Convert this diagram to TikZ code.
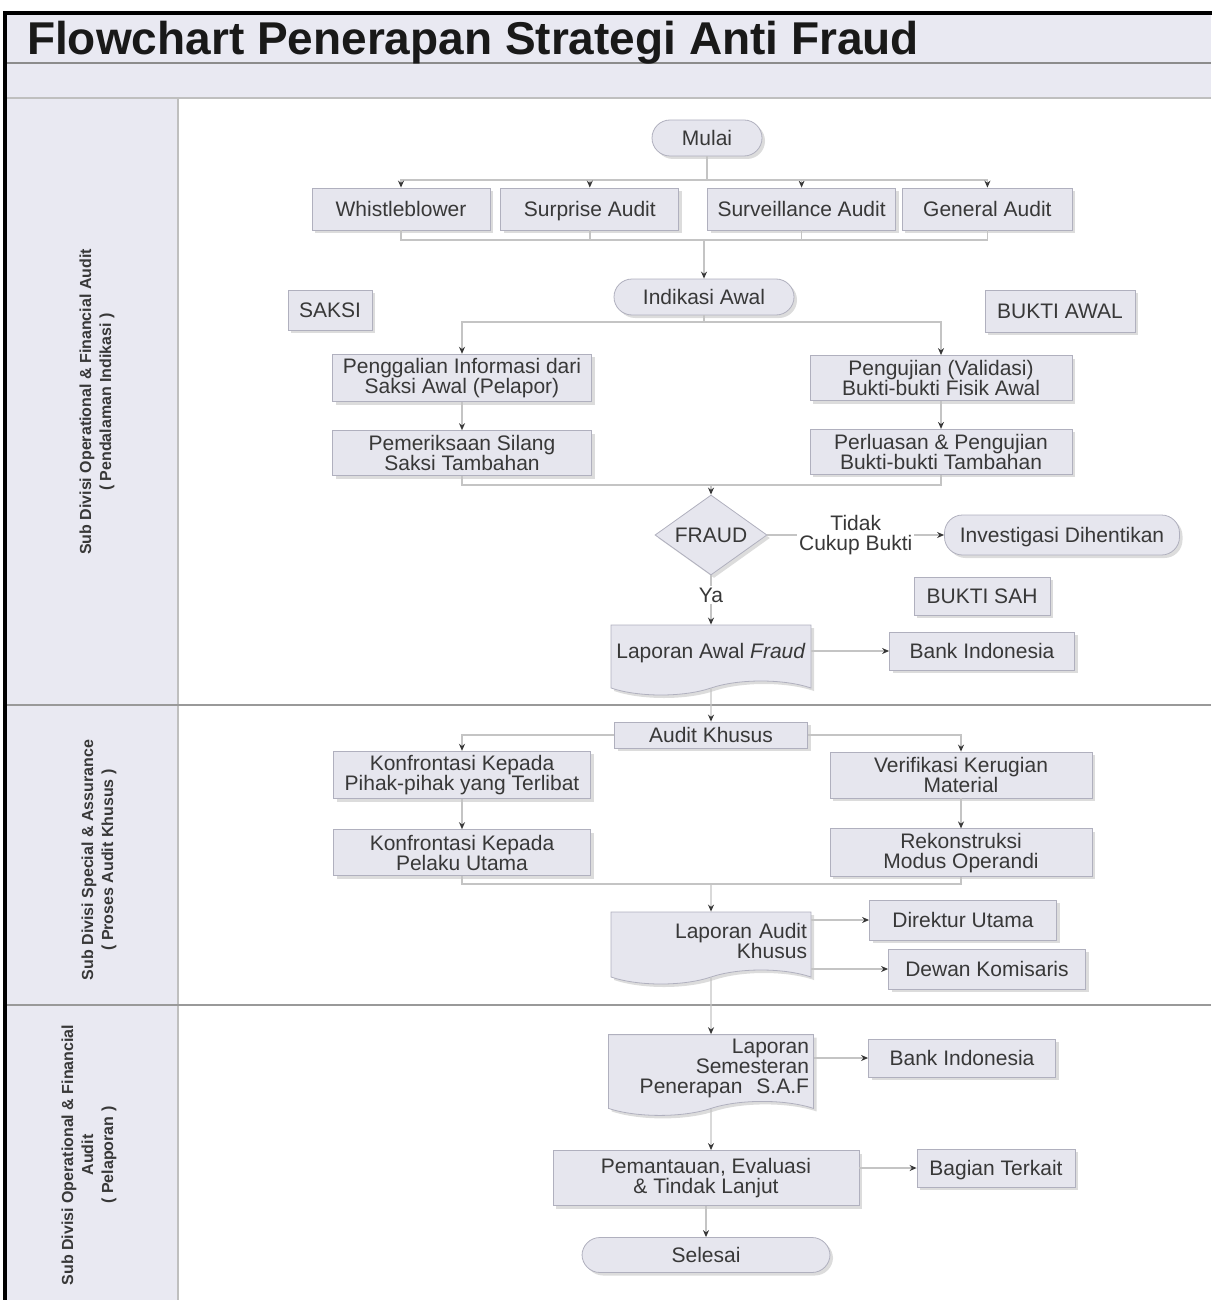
\documentclass[tikz,border=0pt]{standalone}
\usepackage{fontspec}
\setmainfont{Liberation Sans}
\usetikzlibrary{arrows.meta,positioning,shapes.geometric,shapes.symbols,shadows}
\definecolor{lanefill}{HTML}{E9E9F2}
\definecolor{boxfill}{HTML}{E6E6EE}
\definecolor{boxline}{HTML}{B0B0BE}
\definecolor{inkgray}{HTML}{383838}
\definecolor{wiregray}{HTML}{C4C4C4}

\begin{document}
\begin{tikzpicture}[x=0.5pt, y=-0.5pt,
	every node/.style={text=inkgray, font=\fontsize{10.5}{10}\selectfont},
	box/.style={rectangle, draw=boxline, fill=boxfill, align=center, inner sep=2pt,
		drop shadow={shadow xshift=1.5pt, shadow yshift=-1.5pt, fill=black!30, opacity=0.45}},
	sbox/.style={box, text height=7.5pt, text depth=0pt},
	pill/.style={sbox, rounded corners=9pt},
	docbox/.style={box, tape, tape bend top=none, tape bend height=7pt},
	lbl/.style={fill=white, inner sep=1pt, align=center},
	wire/.style={draw=wiregray, line width=0.7pt},
	conn/.style={wire, -{Stealth[length=3.5pt, width=3pt, color=inkgray]}},
	lanetext/.style={rotate=90, align=center, font=\fontsize{8}{10}\selectfont\bfseries}]
	
	\useasboundingbox (0,0) rectangle (1211,1300);
	
	% frame, title band and lanes
	\fill[lanefill] (6,14) rectangle (1211,98);
	\fill[lanefill] (6,98) rectangle (178,1300);
	\draw[black!45, line width=0.9pt] (6,63) -- (1211,63);
	\draw[black!25, line width=0.8pt] (6,98) -- (1211,98);
	\draw[black!25, line width=0.8pt] (178,98) -- (178,1300);
	\draw[black!40, line width=1.4pt] (6,705) -- (1211,705);
	\draw[black!40, line width=1.4pt] (6,1005) -- (1211,1005);
	\draw[black, line width=2pt] (5,13) rectangle (1225,1315);
	
	\node[anchor=base west, text=black!90, font=\fontsize{23}{23}\selectfont\bfseries] (title) at (20,55) {Flowchart Penerapan Strategi Anti Fraud};
	
	\node[lanetext] (laneA) at (97,402) {Sub Divisi Operational \& Financial Audit\\( Pendalaman Indikasi )};
	\node[lanetext] (laneB) at (99,860) {Sub Divisi Special \& Assurance\\( Proses Audit Khusus )};
	\node[lanetext] (laneC) at (89,1155) {Sub Divisi Operational \& Financial\\Audit\\( Pelaporan )};
	
	% lane 1: pendalaman indikasi
	\node[pill, minimum width=55pt, minimum height=18pt] (mulai) at (707,138) {Mulai};
	\node[sbox, minimum width=89pt, minimum height=21pt] (whistle) at (401,209) {Whistleblower};
	\node[sbox, minimum width=89pt, minimum height=21pt, right=5pt of whistle] (surprise) {Surprise Audit};
	\node[sbox, minimum width=94pt, minimum height=21pt, right=14pt of surprise] (surveil) {Surveillance Audit};
	\node[sbox, minimum width=85pt, minimum height=21pt, right=3pt of surveil] (general) {General Audit};
	\coordinate (topbus) at (707,180);
	\coordinate (midbus) at (704,240);
	
	\node[pill, minimum width=90pt, minimum height=18pt] (indikasi) at (704,297) {Indikasi Awal};
	\node[sbox, minimum width=42pt, minimum height=20pt] (saksi) at (330,310) {SAKSI};
	\node[sbox, minimum width=75pt, minimum height=21pt] (buktiawal) at (1060,311) {BUKTI AWAL};
	\coordinate (split) at (704,322);
	
	\node[box, minimum width=129.5pt, minimum height=22.5pt] (penggalian) at (462,378) {Penggalian Informasi dari\\Saksi Awal (Pelapor)};
	\node[box, minimum width=129.5pt, minimum height=22.5pt, below=14pt of penggalian] (pemeriksaan) {Pemeriksaan Silang\\Saksi Tambahan};
	\node[box, minimum width=131pt, minimum height=22.5pt] (pengujian) at (941,378) {Pengujian (Validasi)\\Bukti-bukti Fisik Awal};
	\node[box, minimum width=131pt, minimum height=22.5pt, below=14pt of pengujian] (perluasan) {Perluasan \& Pengujian\\Bukti-bukti Tambahan};
	\coordinate (joinA) at (711,485);
	
	\node[diamond, aspect=1.4, draw=boxline, fill=boxfill, inner sep=0pt, minimum width=56pt, minimum height=40pt,
		drop shadow={shadow xshift=1.5pt, shadow yshift=-1.5pt, fill=black!30, opacity=0.45}] (fraud) at (711,535) {FRAUD};
	\node[pill, minimum width=117.5pt, minimum height=20pt] (investigasi) at (1062,535) {Investigasi Dihentikan};
	\node[sbox, minimum width=68pt, minimum height=19pt] (buktisah) at (982,596) {BUKTI SAH};
	\node[docbox, minimum width=100pt, minimum height=35pt] (lapawal) at (711,653) {Laporan Awal \textit{Fraud}};
	\node[sbox, minimum width=92.5pt, minimum height=19pt] (bankA) at (982,651) {Bank Indonesia};
	
	% lane 2: proses audit khusus
	\node[sbox, minimum width=96.5pt, minimum height=13pt, inner sep=1pt] (audit) at (711,735) {Audit Khusus};
	\node[box, minimum width=128.5pt, minimum height=23pt] (konfA) at (462,775) {Konfrontasi Kepada\\Pihak-pihak yang Terlibat};
	\node[box, minimum width=128.5pt, minimum height=23pt, below=15pt of konfA] (konfB) {Konfrontasi Kepada\\Pelaku Utama};
	\node[box, minimum width=131pt, minimum height=23pt] (verif) at (961,775) {Verifikasi Kerugian\\Material};
	\node[box, minimum width=131pt, minimum height=23pt, below=15pt of verif] (rekon) {Rekonstruksi\\Modus Operandi};
	\coordinate (joinB) at (711,884);
	\node[docbox, minimum width=100pt, minimum height=36pt, text width=96pt, align=right] (lapak) at (711,941) {Laporan Audit\\Khusus};
	\node[sbox, minimum width=93.5pt, minimum height=20pt] (direktur) at (963,920) {Direktur Utama};
	\node[sbox, minimum width=98.5pt, minimum height=20pt] (dewan) at (987,969) {Dewan Komisaris};
	
	% lane 3: pelaporan
	\node[docbox, minimum width=102.5pt, minimum height=35pt, text width=98pt, align=right] (lapsem) at (711,1068) {Laporan\\Semesteran\\Penerapan~~S.A.F};
	\node[sbox, minimum width=93.5pt, minimum height=19pt] (bankB) at (962,1058) {Bank Indonesia};
	\node[box, minimum width=153pt, minimum height=27.5pt] (pemantauan) at (706,1178) {Pemantauan, Evaluasi\\\& Tindak Lanjut};
	\node[sbox, minimum width=79pt, minimum height=19pt] (bagian) at (996,1168) {Bagian Terkait};
	\node[pill, minimum width=124pt, minimum height=17.5pt] (selesai) at (706,1255) {Selesai};
	
	% connectors
	\draw[wire] (mulai) -- (topbus);
	\foreach \src in {whistle, surprise, surveil, general} {
		\draw[conn] (topbus) -| (\src);
		\draw[wire] (\src) |- (midbus);
	}
	\draw[conn] (midbus) -- (indikasi);
	\draw[wire] (indikasi) -- (split);
	\draw[conn] (split) -| (penggalian);
	\draw[conn] (split) -| (pengujian);
	\draw[conn] (penggalian) -- (pemeriksaan);
	\draw[conn] (pengujian) -- (perluasan);
	\draw[wire] (pemeriksaan) |- (joinA);
	\draw[wire] (perluasan) |- (joinA);
	\draw[conn] (joinA) -- (fraud);
	\draw[conn] (fraud) -- node[lbl] {Tidak\\Cukup Bukti} (investigasi);
	\draw[conn] (fraud) -- node[lbl, pos=0.4] {Ya} (lapawal);
	\draw[conn] (lapawal.east |- bankA) -- (bankA);
	\draw[conn] (lapawal) -- (audit);
	
	\draw[conn] (audit) -| (konfA);
	\draw[conn] (audit) -| (verif);
	\draw[conn] (konfA) -- (konfB);
	\draw[conn] (verif) -- (rekon);
	\draw[wire] (konfB) |- (joinB);
	\draw[wire] (rekon) |- (joinB);
	\draw[conn] (joinB) -- (lapak);
	\draw[conn] (lapak.east |- direktur) -- (direktur);
	\draw[conn] (lapak.east |- dewan) -- (dewan);
	
	\draw[conn] (lapak) -- (lapsem);
	\draw[conn] (lapsem.east |- bankB) -- (bankB);
	\draw[conn] (lapsem) -- (lapsem |- pemantauan.north);
	\draw[conn] (pemantauan.east |- bagian) -- (bagian);
	\draw[conn] (pemantauan) -- (selesai);
	
\end{tikzpicture}
\end{document}
